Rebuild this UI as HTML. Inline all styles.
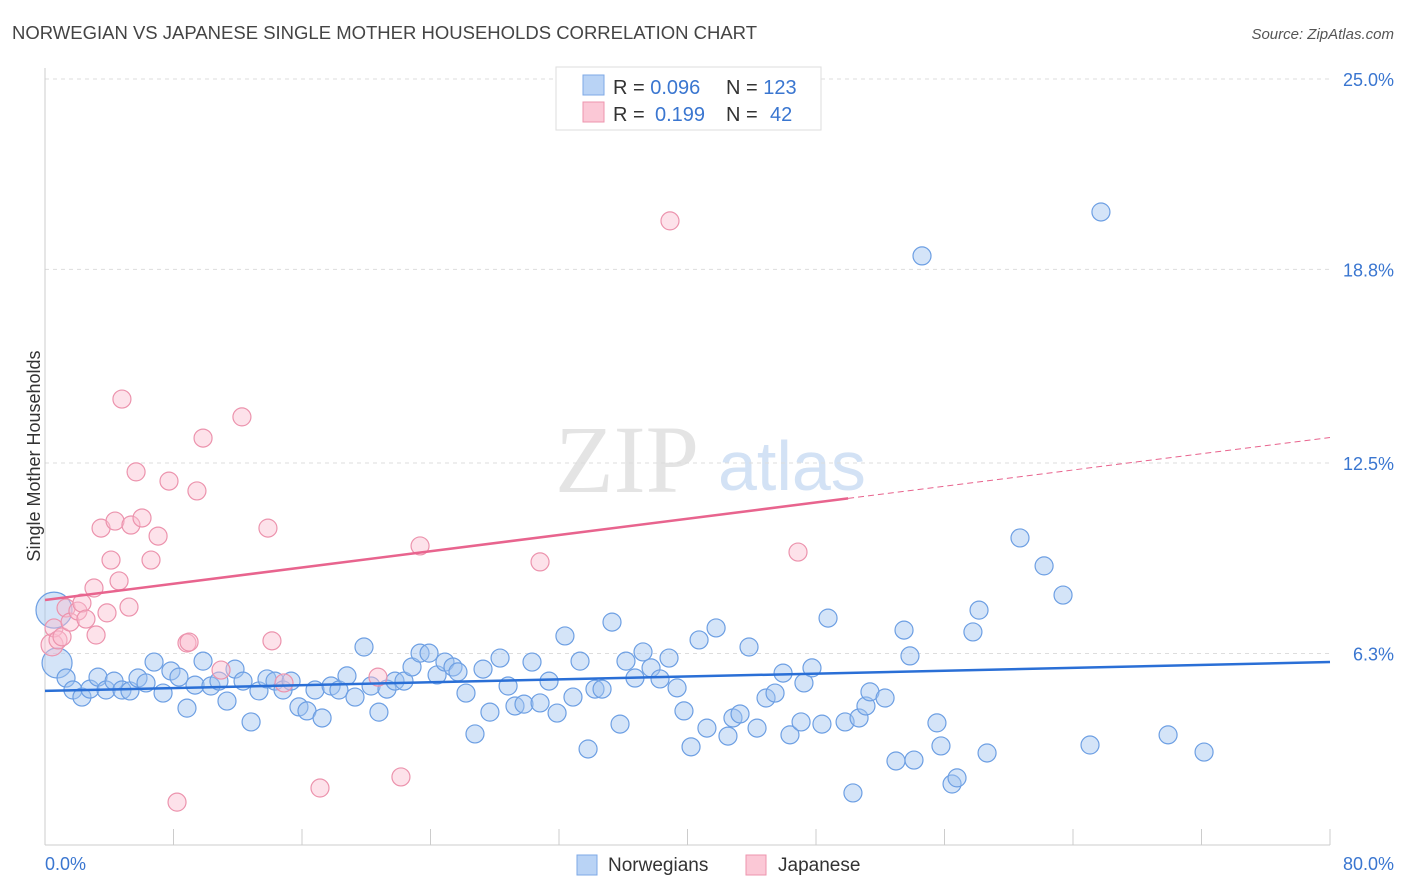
<!DOCTYPE html>
<html><head><meta charset="utf-8">
<style>
body{margin:0;background:#fff;font-family:"Liberation Sans",sans-serif;}
#wrap{position:relative;width:1406px;height:892px;overflow:hidden;}
</style></head>
<body>
<div id="wrap">
<svg id="svg" width="1406" height="892" xmlns="http://www.w3.org/2000/svg">
<text x="12" y="39" font-size="18" fill="#444" textLength="745" lengthAdjust="spacingAndGlyphs">NORWEGIAN VS JAPANESE SINGLE MOTHER HOUSEHOLDS CORRELATION CHART</text>
<text x="1394" y="39" font-size="15" fill="#555" font-style="italic" text-anchor="end">Source: ZipAtlas.com</text>
<text x="555" y="492" font-size="96" fill="#e4e4e4" font-family="Liberation Serif,serif">ZIP</text>
<text x="718" y="490" font-size="70" fill="#d3e2f5">atlas</text>
<g id="grid"></g>
<line x1="45" y1="68" x2="45" y2="845" stroke="#ccc"/>
<line x1="45" y1="845" x2="1330" y2="845" stroke="#ccc"/>
<g id="xticks"></g>
<text x="34" y="462" font-size="18" fill="#333" text-anchor="middle" transform="rotate(-90 34 456)">Single Mother Households</text>
<text x="45" y="870" font-size="18" fill="#3a76d0">0.0%</text>
<text x="1394" y="870" font-size="18" fill="#3a76d0" text-anchor="end">80.0%</text>
<g id="pts"></g>
<g id="trend"></g>
<g>
<rect x="556" y="67" width="265" height="63" fill="#fff" stroke="#ddd"/>
<rect x="583" y="75" width="21" height="20" fill="#b9d3f5" stroke="#7ea8e6"/>
<rect x="583" y="102" width="21" height="20" fill="#fbc8d6" stroke="#ee94ae"/>
<text x="613" y="94" font-size="20" fill="#333">R = <tspan fill="#3a76d0">0.096</tspan></text>
<text x="726" y="94" font-size="20" fill="#333">N = <tspan fill="#3a76d0">123</tspan></text>
<text x="613" y="121" font-size="20" fill="#333">R = <tspan fill="#3a76d0" x="655">0.199</tspan></text>
<text x="726" y="121" font-size="20" fill="#333">N = <tspan fill="#3a76d0" x="770">42</tspan></text>
</g>
<g>
<rect x="577" y="855" width="20" height="20" fill="#b9d3f5" stroke="#7ea8e6"/>
<text x="608" y="871" font-size="19" fill="#333">Norwegians</text>
<rect x="746" y="855" width="20" height="20" fill="#fbc8d6" stroke="#ee94ae"/>
<text x="778" y="871" font-size="19" fill="#333">Japanese</text>
</g>
</svg>
</div>
<script>
const yTicks=[6.3,12.5,18.8,25.0];
const yTickLabels=["6.3%","12.5%","18.8%","25.0%"];
const xTickVals=[8,16,24,32,40,48,56,64,72,80];
const blueX=[0.56,0.75,1.31,1.74,2.30,2.80,3.30,3.80,4.30,4.79,5.29,5.79,6.29,6.79,7.35,7.84,8.34,8.84,9.34,9.84,10.33,10.83,11.33,11.83,12.33,12.83,13.32,13.82,14.32,14.82,15.32,15.81,16.31,16.81,17.25,17.81,18.30,18.80,19.30,19.86,20.30,20.79,21.29,21.79,22.35,22.85,23.35,23.91,24.41,24.90,25.40,25.71,26.21,26.77,27.27,27.70,28.33,28.83,29.26,29.82,30.32,30.82,31.38,31.88,32.37,32.87,33.31,33.81,34.24,34.68,35.30,35.80,36.17,36.73,37.23,37.73,38.29,38.85,39.35,39.78,40.22,40.72,41.21,41.78,42.52,42.83,43.27,43.83,44.33,44.89,45.45,45.95,46.38,47.07,47.25,47.75,48.37,48.75,49.81,50.30,50.68,51.11,51.36,52.30,52.98,53.48,53.85,54.10,54.60,55.53,55.78,56.47,56.78,57.77,58.15,58.65,60.70,62.20,63.38,65.06,65.74,69.92,72.16];
const blueY=[7.71,5.99,5.50,5.11,4.88,5.14,5.53,5.11,5.40,5.11,5.08,5.50,5.34,6.02,5.01,5.73,5.53,4.52,5.27,6.05,5.24,5.40,4.75,5.79,5.40,4.07,5.08,5.47,5.40,5.11,5.40,4.56,4.43,5.11,4.20,5.24,5.11,5.57,4.88,6.51,5.24,4.39,5.14,5.40,5.40,5.86,6.31,6.31,5.60,6.02,5.86,5.70,5.01,3.68,5.79,4.39,6.15,5.24,4.59,4.65,6.02,4.69,5.40,4.36,6.87,4.88,6.05,3.19,5.14,5.14,7.32,4.00,6.05,5.50,6.35,5.83,5.47,6.15,5.18,4.43,3.26,6.74,3.87,7.13,3.61,4.20,4.33,6.51,3.87,4.85,5.01,5.66,3.65,4.07,5.34,5.83,4.00,7.45,4.07,1.76,4.20,4.59,5.05,4.85,2.80,7.06,6.22,2.83,19.24,4.04,3.29,2.05,2.25,7.00,7.71,3.06,10.06,9.15,8.20,3.32,20.67,3.65,3.09];
const pinkX=[0.44,0.56,0.81,1.06,1.31,1.56,2.05,2.30,2.55,3.05,3.18,3.49,3.86,4.11,4.36,4.61,4.79,5.23,5.35,5.67,6.04,6.60,7.04,7.72,8.22,8.84,8.97,9.46,9.84,10.96,12.26,13.88,14.13,14.88,17.12,20.73,22.16,23.35,30.82,38.91,46.88];
const pinkY=[6.58,7.13,6.74,6.84,7.78,7.32,7.68,7.94,7.42,8.43,6.90,10.38,7.62,9.34,10.61,8.66,14.58,7.81,10.48,12.21,10.71,9.34,10.12,11.91,1.46,6.64,6.67,11.59,13.31,5.76,14.00,10.38,6.71,5.34,1.92,5.53,2.28,9.80,9.28,20.38,9.60];
const blueTrend=[5.08,6.02];
const pinkTrend=[8.04,13.33];
const pinkSolidEnd=50;

const NS="http://www.w3.org/2000/svg";
const sx=v=>45+v/80*1285;
const sy=v=>847-v/0.03255;
function mk(tag,attrs,parent){const e=document.createElementNS(NS,tag);for(const k in attrs)e.setAttribute(k,attrs[k]);parent.appendChild(e);return e;}
const grid=document.getElementById('grid');
yTicks.forEach((t,i)=>{
  const l=mk('line',{x1:45,x2:1330,y1:sy(t),y2:sy(t),stroke:'#ddd','stroke-dasharray':'4,4'},grid);
  
  
  const tx=mk('text',{x:1394,y:sy(t)+7,'font-size':18,fill:'#3a76d0','text-anchor':'end'},grid);
  tx.textContent=yTickLabels[i];
  
  
});
const xt=document.getElementById('xticks');
xTickVals.forEach(v=>{
  const l=mk('line',{x1:sx(v),x2:sx(v),y1:829,y2:845,stroke:'#ccc'},xt);
  
  
});
const pts=document.getElementById('pts');
blueX.forEach((x,i)=>{
  const r=i===0?18:(i===1?15:9);
  const c=mk('circle',{cx:sx(x),cy:sy(blueY[i]),r:r,fill:'rgba(160,196,240,0.45)',stroke:'#6d9fe3','stroke-width':1.2},pts);
  
  
});
pinkX.forEach((x,i)=>{
  const r=i===0?11:9;
  const c=mk('circle',{cx:sx(x),cy:sy(pinkY[i]),r:r,fill:'rgba(250,190,208,0.45)',stroke:'#ec93ad','stroke-width':1.2},pts);
  
  
});
const tr=document.getElementById('trend');
const bl=mk('line',{x1:sx(0),y1:sy(blueTrend[0]),x2:sx(80),y2:sy(blueTrend[1]),stroke:'#2a6fd6','stroke-width':2.5},tr);


const pAt=v=>pinkTrend[0]+(pinkTrend[1]-pinkTrend[0])*v/80;
const pl=mk('line',{x1:sx(0),y1:sy(pinkTrend[0]),x2:sx(pinkSolidEnd),y2:sy(pAt(pinkSolidEnd)),stroke:'#e8648e','stroke-width':2.5},tr);


const pd=mk('line',{x1:sx(pinkSolidEnd),y1:sy(pAt(pinkSolidEnd)),x2:sx(80),y2:sy(pinkTrend[1]),stroke:'#e8648e','stroke-width':1,'stroke-dasharray':'6,4'},tr);


</script>
</body></html>
